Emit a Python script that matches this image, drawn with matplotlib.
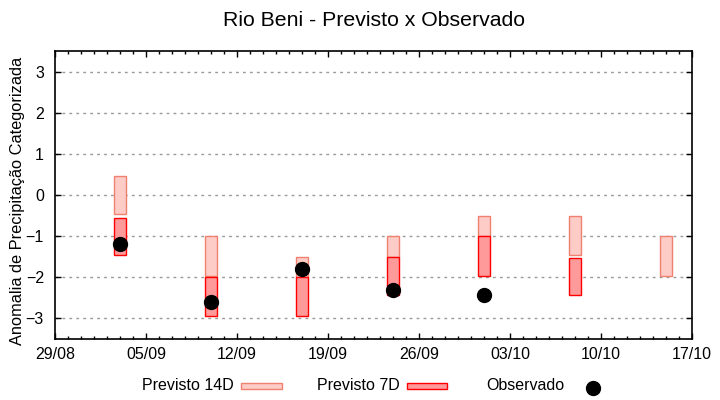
import matplotlib
matplotlib.use("Agg")
import matplotlib.pyplot as plt
import matplotlib.dates as mdates
from matplotlib.patches import Rectangle
from matplotlib.lines import Line2D
import numpy as np
import pandas as pd

plt.rcParams['font.family'] = ['Liberation Sans', 'DejaVu Sans']

# ---- data ----
dates = pd.to_datetime(['2023-09-03', '2023-09-10', '2023-09-17', '2023-09-24',
                        '2023-10-01', '2023-10-08', '2023-10-15'])
prev14_low = [-0.45, -1.97, -2.0, -1.51, -1.0, -1.45, -1.97]
prev14_high = [0.45, -1.0, -1.51, -1.0, -0.52, -0.52, -1.0]
obs_dates = pd.to_datetime(['2023-09-03', '2023-09-10', '2023-09-17', '2023-09-24',
                            '2023-10-01'])
prev7_dates = pd.to_datetime(['2023-09-03', '2023-09-10', '2023-09-17', '2023-09-24',
                              '2023-10-01', '2023-10-08'])
prev7_low = [-1.45, -2.95, -2.95, -2.44, -1.97, -2.44]
prev7_high = [-0.55, -2.0, -2.0, -1.51, -1.0, -1.52]
observed = [-1.2, -2.6, -1.8, -2.32, -2.42]
title = "Rio Beni - Previsto x Observado"
ylabel = "Anomalia de Precipitação Categorizada"
labels = ["Previsto 14D", "Previsto 7D", "Observado"]

c14_face, c14_edge = '#fdccc6', '#f08070'
c7_face, c7_edge = '#ff9a9a', '#ff0000'

fig = plt.figure(figsize=(7.2, 4.0), dpi=100)
ax = fig.add_axes([55/720, 1-339/400, (692-55)/720, (339-51)/400])

h14 = np.array(prev14_high) - np.array(prev14_low)
h7 = np.array(prev7_high) - np.array(prev7_low)
ax.bar(dates, h14, bottom=prev14_low, width=0.9, color=c14_face,
       edgecolor=c14_edge, linewidth=1.0, zorder=3)
ax.bar(prev7_dates, h7, bottom=prev7_low, width=0.9, color=c7_face,
       edgecolor=c7_edge, linewidth=1.0, zorder=4)
ax.plot(obs_dates, observed, 'o', color='black', markersize=10, zorder=5)

ax.set_xlim(pd.Timestamp('2023-08-29'), pd.Timestamp('2023-10-17'))
ax.set_ylim(-3.5, 3.5)
ax.set_yticks(range(-3, 4))
ax.xaxis.set_major_locator(mdates.WeekdayLocator(byweekday=mdates.TU))
ax.xaxis.set_minor_locator(mdates.DayLocator())
ax.xaxis.set_major_formatter(mdates.DateFormatter('%d/%m'))

ax.grid(axis='y', linestyle=(0, (2, 3)), color='#999999', linewidth=1.0, zorder=1)
ax.set_axisbelow(True)
ax.tick_params(axis='both', which='both', direction='in', top=True, right=True,
               labelsize=11.5, colors='black')
ax.tick_params(axis='both', which='major', length=4.5, width=1.0)
ax.tick_params(axis='both', which='minor', length=2.5, width=1.0)
ax.tick_params(axis='x', which='major', pad=6)
ax.tick_params(axis='y', which='major', pad=8)
for s in ax.spines.values():
    s.set_linewidth(1.2)

ax.set_ylabel(ylabel, fontsize=11.8)
ax.yaxis.set_label_coords((17-55)/637, (339-201)/288)
ax.yaxis.label.set_va('center')
fig.text(373.5/720, 1-20/400, title, ha='center', va='center', fontsize=15.3)

# legend
ly = 1 - 386/400
fig.text(142/720, ly, labels[0], ha='left', va='center', fontsize=11.5)
fig.add_artist(Rectangle((241/720, ly - 3/400), 41/720, 6/400, transform=fig.transFigure,
                         facecolor=c14_face, edgecolor=c14_edge, linewidth=1.0))
fig.text(317/720, ly, labels[1], ha='left', va='center', fontsize=11.5)
fig.add_artist(Rectangle((407/720, ly - 3/400), 40/720, 6/400, transform=fig.transFigure,
                         facecolor=c7_face, edgecolor=c7_edge, linewidth=1.0))
fig.text(486/720, ly, labels[2], ha='left', va='center', fontsize=11.5)
fig.add_artist(Line2D([593/720], [ly - 2/400], marker='o', color='black', markersize=10,
                      transform=fig.transFigure))

fig.savefig('out.png', dpi=100)
